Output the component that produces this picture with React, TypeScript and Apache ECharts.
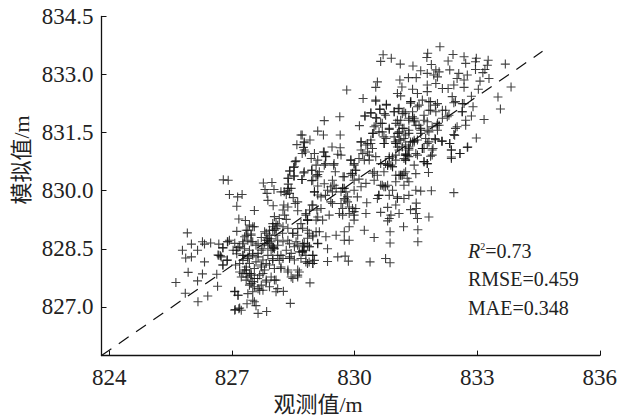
import React, { useEffect, useRef } from "react";
import * as echarts from "echarts";

const xTicks = [824, 827, 830, 833, 836];
const yTicks = [827, 828.5, 830, 831.5, 833, 834.5];
const fitLine = [[823.81, 825.74], [834.6, 833.6]];

const sparseLow = [
[825.91,828.91],[826.01,828.62],[825.79,828.46],[826.16,828.46],[826.28,828.68],[826.33,828.62],[826.48,828.65],[826.68,828.62],[825.87,828.26],[826.01,828.29],[826.33,828.16],[826.66,828.34],[826.72,828.32],[825.93,827.89],[826.28,827.85],[826.16,827.67],[826.63,827.84],[825.63,827.63],[825.86,827.35],[826.65,827.53],[826.41,827.28],[826.17,827.13],[826.78,828.08],[826.89,828.21],[826.78,828.52],[826.89,828.68],[827.07,827.39],[827.15,827.3],[827.08,826.93],[827.19,826.97],
];

const lowCluster = [
[826.79,830.28],[826.91,830.27],[826.94,829.9],[827.14,829.84],[827.25,829.9],[827.12,829.6],[827.55,829.49],[827.77,830.2],[827.98,830.21],[827.81,830.03],[828.03,830.03],[827.86,829.93],[827.88,829.75],[828.01,829.61],[828.28,829.97],[828.37,830.06],[828.41,829.93],[828.33,829.9],[828.5,829.82],[828.61,829.71],[828.55,829.67],[828.61,829.48],[828.27,829.63],[828.37,829.58],[828.25,829.5],
[828.55,830.75],[828.51,830.6],[828.41,830.51],[828.76,830.46],[828.95,830.53],[829.1,830.42],[828.38,830.32],[828.53,830.38],[828.71,830.29],[828.95,830.26],[828.38,830.17],[829.02,829.97],[829.1,829.89],[828.96,829.63],[829.08,829.5],[828.9,829.5],[828.81,829.37],[828.85,829.24],[829.06,829.24],
[827.17,829.27],[827.33,829.23],[827.12,828.95],[827.35,828.98],[827.43,829.11],[827.55,829.07],[827.35,828.85],[827.47,828.88],[828.04,829.33],[828.16,829.28],[828.29,829.37],[828.33,829.26],[828,829.15],[828.12,829.11],[828.25,829.07],[828.04,828.98],[827.92,828.85],[827.8,828.94],[827.72,828.79],[827.84,828.72],[827.96,828.76],[828.08,828.85],[828.37,829.03],[828.49,828.9],[828.61,828.85],[828.73,829.03],[828.85,828.98],[829.06,828.94],[828.98,828.81],[829.1,828.63],[828.85,828.77],[828.57,828.68],[828.73,828.63],[828.9,828.55],[828.77,828.46],[828.65,828.42],[828.53,828.55],[828.41,828.63],[828.25,828.68],[828.12,828.59],[828,828.5],[827.88,828.59],[827.76,828.5],[827.64,828.63],[827.51,828.68],[827.39,828.72],[827.27,828.63],[827.15,828.53],[827.03,828.46],[827.12,828.37],[827.27,828.33],[827.39,828.25],[827.51,828.37],[827.64,828.29],[827.76,828.21],[827.88,828.33],[828,828.25],[828.12,828.33],[828.25,828.25],[828.41,828.29],[828.53,828.21],[828.69,828.25],[828.81,828.16],[828.98,828.12],[828.98,828.33],
[826.9,828.68],[826.94,828.72],[826.78,828.53],[826.68,828.33],[826.74,828.29],[826.88,828.2],[826.78,828.08],[827.09,828.08],[827.19,827.9],[827.23,827.77],[827.31,827.95],[827.43,827.86],[827.35,827.69],[827.47,827.6],[827.55,827.73],[827.68,827.82],[827.8,827.95],[827.92,828.08],[828.04,827.99],[828.2,827.99],[828.37,827.95],[828.49,827.73],[828.61,827.77],[828.65,827.9],[828.91,827.62],[827.84,827.64],[828.04,827.69],[827.92,827.52],[827.76,827.43],[827.64,827.47],[827.51,827.39],[827.39,827.34],[827.43,827.56],[827.07,827.4],[827.15,827.3],[828.08,827.39],[828.26,827.4],[828.12,827.47],[828.43,827.09],[827.55,827.13],[827.59,827.03],[827.37,827.08],[827.17,826.95],[827.07,826.91],[827.23,826.91],[827.64,826.83],[827.85,826.88],[827.51,827.17],
[827.27,828.2],[827.43,828.12],[827.59,828.16],[827.72,828.03],[827.35,828.03],[827.19,828.12],[827.88,828.72],[828,828.98],[828.08,829.02],[828.02,828.53],[827.92,828.63],[828.73,828.45],[827.35,827.86],[827.47,827.82],[827.55,827.52],[827.68,827.43],
];

const lowCore = [
[827.39,828.98],[827.51,829.07],[827.31,828.81],[827.47,828.85],[827.84,828.9],[827.92,828.98],[828,829.07],[828.08,829.15],[827.88,828.77],[827.96,828.68],[827.8,828.64],[828,828.55],[827.96,828.46],[828.04,828.5],[828.12,828.72],[828.24,828.9],[828.37,828.72],[828.49,828.9],[828.61,829.02],[828.85,829.24],[828.89,828.9],[828.77,828.64],[828.89,828.55],[828.73,828.42],[828.61,828.59],[828.45,828.38],[828.33,828.46],[828.2,828.33],[828.41,828.25],[828.89,828.16],[828.16,828.2],[828,828.2],[827.84,828.12],[827.72,828.46],[827.64,828.38],[827.51,828.33],[827.39,828.29],[827.27,828.33],[827.11,828.46],[827.07,828.64],[827.19,828.55],[827.31,828.5],[827.43,828.46],[827.59,828.59],[827.47,828.68],[827.27,828.68],[827.35,827.95],[827.47,827.86],[827.27,827.86],[827.39,827.77],[827.51,827.65],[827.63,827.73],[827.76,827.86],[827.84,827.69],[827.96,827.77],[828.08,827.69],[827.72,827.56],[827.55,827.99],[827.72,828.08],[828.37,827.9],[828.61,827.95],[828.61,827.82],[828.45,827.77],[828.2,828.03],
];

const midCluster = [
[828.75,828.55],[828.85,828.59],[828.72,828.42],[828.81,828.33],[828.98,828.33],[829.02,828.2],[828.85,828.12],[828.98,828.12],[829.34,828.17],[829.59,828.29],[829.77,828.31],[829.85,828.18],[830.38,828.16],[830.76,828.25],[830.87,828.14],[829.34,828.5],[829.1,828.64],[829.14,828.94],[828.98,828.85],[829.3,828.81],[829.55,828.85],[829.75,828.94],[829.75,828.72],[829.87,828.72],[829.87,829.07],[830.24,828.98],[830.48,828.79],[830.87,828.94],[830.87,828.65],[831.55,828.68],[831.55,828.99],[831.2,829.07],[831.82,829.32],[831.54,829.28],[831.5,829.41],[831.51,829.54],[831.37,829.51],[831.51,829.68],[831.5,830.01],[831.62,829.99],[831.88,830],[832.43,829.95],[831.09,829.41],[830.89,829.37],[830.81,829.57],[830.64,829.44],[830.85,829.28],[830.81,829.22],[830.28,829.41],[830.3,829.69],[830.56,829.8],[830.59,829.88],[830.85,829.88],[831.05,829.8],[831.21,829.8],[831.33,829.88],
[828.72,831.44],[828.91,831.31],[828.77,831.24],[828.77,831.05],[828.72,830.96],[829.1,831.54],[829.26,831.81],[829.24,831.44],[829.64,831.91],[829.65,831.44],[829.45,831.13],[829.65,831.11],[829.59,830.94],[829.67,830.92],[829.26,831],[829.02,830.96],[828.94,830.83],[829.1,830.79],[829.3,830.88],[829.26,830.66],[829.5,830.7],[829.06,830.66],[828.77,830.49],[828.96,830.53],[829.14,830.49],[829.53,830.49],[828.72,830.29],[828.98,830.27],[829.1,830.36],[829.46,830.27],[829.75,830.36],[829.1,830.12],[829.42,830.1],[829.02,829.97],[829.26,830.18],[829.34,830.01],[829.55,830.06],[829.67,829.97],[829.18,829.84],[829.46,829.67],[828.98,829.63],[828.81,829.41],[829.18,829.54],[829.38,829.37],[829.1,829.32],[828.85,829.24],[829.22,829.24],[828.69,829.15],[829.71,829.37],[829.87,829.58],[830.03,829.54],[829.99,829.37],[829.99,829.24],[829.79,829.76],[829.75,830.06],[829.83,829.84],[829.67,829.67],[830.07,829.84],[829.99,830.01],[830.16,830.1],[830.28,830.19],[829.99,830.27],[829.95,830.4],[830.11,830.3],[829.91,830.79],[829.99,830.66],[830.03,830.53],[830.16,831.05],[830.24,830.79],[830.36,830.92],[830.16,831.26],[830.32,831.22],[830.4,831.31],[830.52,830.88],[830.64,830.7],[830.48,830.49],[830.56,830.4],[830.85,830.83],[831.01,830.92],[830.81,830.66],[830.93,830.62],[830.72,830.49],[831.01,830.4],[831.13,830.4],[831.25,830.49],[831.46,830.66],[831.7,830.75],[831.78,830.7],[831.81,830.47],[831.5,830.44],[831.33,830.23],[831.21,830.14],[831.01,830.23],[830.76,830.1],[830.68,830.14],[830.93,830.01],[830.48,830.27],[831.9,831.05],[831.9,830.92],[831.7,831.09],[831.5,830.96],[831.25,830.79],[831.25,830.92],[831.33,831.09],[831.09,831.31],[831.01,831.22],[831.42,831.26],[831.25,831.18],[831.74,831.35],[831.98,831.32],[832.15,831.28],[832.33,831.22],[832.37,831.05],[832.37,830.83],[832.58,830.96],[832.76,831.12],[832.43,831.45],[832.47,831.61],[832.72,831.69],
[830.12,831.68],[830.46,831.48],[830.72,831.22],[830.72,831.39],[830.6,831.52],[830.52,831.69],[830.64,831.74],[830.85,831.61],[830.26,831.93],[830.4,832.01],[830.54,831.87],[830.62,832.1],[830.76,831.95],[830.78,832.23],[830.97,832.04],[831.05,831.82],[831.09,832.13],[831.25,832],[831.37,832.3],[831.46,831.87],[831.5,831.69],[831.17,831.61],[831.05,831.48],[831.33,831.48],[831.62,831.61],[831.78,831.78],[832.02,831.69],[832.15,831.87],[832.31,831.95],[831.7,831.95],[831.86,832.08],[831.98,832.21],[832.23,832.08],[832.43,832.27],[832.63,832.04],[832.68,832.25],[831.58,832.21],[831.82,832.3],[830.52,832.31],
[829.81,832.6],[828.69,831.44],[828.59,831.19],[828.77,831.26],[828.75,831.12],[828.8,831],[829.24,831],[829.29,830.89],[828.57,830.77],[828.53,830.62],[828.42,830.51],[829.06,830.4],[829.29,830.7],[829.49,830.66],[828.51,830.38],[828.37,830.32],[829.72,830.36],[829.91,830.44],[828.2,829.97],[828.37,830.01],[828.45,830.06],[829.29,829.88],[829.46,829.97],[829.71,830.06],
];

const midCore = [
[829.71,830.06],[829.79,829.97],[829.75,829.8],[829.83,829.71],[829.95,829.54],[829.99,829.46],[829.71,829.54],[829.63,829.41],[829.87,829.41],[829.42,829.71],[829.5,830.14],[829.99,830.7],[829.91,830.79],[830.11,830.83],[830.2,830.96],[830.36,830.79],[829.95,830.45],[830.03,830.53],[830.44,830.45],[830.72,830.1],[830.81,830.14],[831.13,830.4],[831.21,830.45],[831.29,830.32],[830.81,830.66],[830.93,830.62],[831.29,830.92],[831.21,830.83],[830.64,830.14],[831.01,829.63],[831.05,829.84],[830.6,829.88],
];

const highCluster = [
[832.09,833.72],[831.79,833.55],[831.77,833.44],[830.7,833.51],[830.64,833.34],[830.9,833.42],[831.12,833.27],[831.43,833.22],[831.88,833.26],[832.29,833.35],[832.41,833.52],[832.68,833.46],[832.72,833.29],[832.98,833.42],[832.96,833.33],[833.27,833.37],[833.25,833.24],[833.69,833.27],[832.96,833.13],[833.19,833.13],[833.14,833.05],[832.33,833.12],[831.62,833.1],[831.78,833.03],[831.99,833.12],[832.07,833.07],[831.94,832.99],[832.03,832.94],[832.55,833.03],[832.76,832.99],[832.51,832.9],[832.68,832.86],[831.32,832.92],[831.51,832.92],[831.11,832.86],[830.56,832.81],[830.52,832.67],[831.16,832.68],[831.05,832.51],[831.13,832.45],[831.42,832.62],[831.78,832.73],[831.99,832.77],[832.15,832.64],[832.29,832.64],[832.43,832.73],[832.68,832.67],[833.07,832.83],[833.29,832.9],[833.03,832.62],[833.83,832.68],[833.51,832.42],[832.86,832.44],[833.57,832.11],[833.17,831.84],[832.86,831.93],[832.9,832.17],[832.72,831.82],[832.98,831.36],[832.77,831.13],[832.58,830.96],[832.37,831.05],[832.37,830.87],[832.33,831.22],[832.45,831.43],[832.51,831.65],[832.15,832.08],[832.27,831.91],[832.47,832.3],[832.64,832.25],[832.64,832.04],[832.39,832.43],[831.78,832.56],[831.54,832.51],[831.38,832.3],[831.54,832.17],[831.66,832.34],[831.86,832.3],[832.03,832.25],[831.82,832.08],[831.99,832.04],[831.42,832.04],[831.17,831.99],[830.97,832.04],[831.07,832.12],[830.78,832.21],[830.62,832.11],[830.52,832.34],[830.21,832.38],[830.25,831.93],[830.4,832.01],[830.52,831.89],[830.73,831.99],[830.68,831.74],[830.85,831.58],[830.48,831.65],[830.44,831.48],[830.68,831.52],[831.01,831.74],[831.13,831.82],[831.33,831.87],[831.46,831.82],[831.58,831.69],[831.7,831.82],[832.07,831.69],[832.03,831.56],[831.82,831.52],[831.62,831.56],[831.33,831.56],[831.09,831.52],[830.77,831.35],[830.73,831.22],[831.01,831.22],[831.21,831.35],[831.46,831.26],[831.78,831.22],[831.97,831.35],[832.13,831.28],[831.92,831.09],[831.66,831.09],[831.33,831.13],[831.09,831.05],[831.86,830.89],[831.54,830.92],[831.25,830.92],[830.93,830.87],[830.4,831.22],[830.28,831.18],[830.16,831.26],[830.44,831.09],[830.32,831],
];

const highCore = [
[831,831.26],[831.13,831.31],[831.25,831.44],[831.37,831.26],[831.46,831.3],[831.17,831.13],[831.05,831.13],[831.33,831.05],[831.25,830.95],[831.25,830.79],[831.33,830.88],[831.09,831.48],[830.97,831.39],[831.42,831.91],[831.33,831.82],[831.46,831.78],[831.37,832.26],[831.21,832.04],[830.85,830.88],[830.76,830.7],[830.89,830.66],[831.01,830.79],[831.17,830.4],[831.09,830.4],[831.7,830.75],[831.78,830.7],[831.66,831.09],[831.82,831.26],[831.54,831.31],[831.62,831.48],[831.78,831.56],[831.9,831.65],[832.03,831.74],[831.09,831.69],[831.21,831.61],
];

const ink = "#222";
const serif = "'Liberation Serif', 'Noto Sans CJK SC', serif";

export default function App() {
  const ref = useRef<HTMLDivElement>(null);
  useEffect(() => {
    const chart = echarts.init(ref.current!, undefined, { renderer: "svg" });
    const axisBase = {
      type: "value" as const,
      splitLine: { show: false },
      axisLine: { show: true, onZero: false, lineStyle: { color: "#111", width: 1.3 } },
    };
    chart.setOption({
      animation: false,
      backgroundColor: "#fff",
      textStyle: { fontFamily: serif },
      grid: { left: 101.5, right: 18, top: 16.5, bottom: 62.4 },
      xAxis: {
        ...axisBase,
        min: 823.81,
        max: 836,
        axisTick: { show: true, inside: true, length: 5, lineStyle: { color: "#111", width: 1 }, customValues: xTicks },
        axisLabel: { customValues: xTicks, fontSize: 23, color: ink, margin: 10, fontFamily: serif },
      },
      yAxis: {
        ...axisBase,
        min: 825.74,
        max: 834.5,
        axisTick: { show: true, inside: true, length: 5, lineStyle: { color: "#111", width: 1 }, customValues: yTicks },
        axisLabel: {
          customValues: yTicks,
          fontSize: 23,
          color: ink,
          margin: 8,
          fontFamily: serif,
          formatter: (v: number) => v.toFixed(1),
        },
      },
      series: [
        {
          type: "scatter",
          data: [...sparseLow, ...lowCluster, ...lowCore, ...midCluster, ...midCore, ...highCluster, ...highCore],
          symbol: "path://M0 4H8M4 0V8",
          symbolSize: 9,
          itemStyle: { color: "none", borderColor: "#111", borderWidth: 1.1 },
          silent: true,
        },
        {
          type: "line",
          data: fitLine,
          showSymbol: false,
          silent: true,
          lineStyle: { color: "#111", width: 1.2, type: [12, 9] },
        },
      ],
      graphic: [
        {
          type: "text",
          x: 318,
          y: 404,
          style: { text: "观测值/m", font: `22px ${serif}`, fill: ink, align: "center", verticalAlign: "middle" },
        },
        {
          type: "text",
          x: 21,
          y: 160,
          rotation: Math.PI / 2,
          style: { text: "模拟值/m", font: `22px ${serif}`, fill: ink, align: "center", verticalAlign: "middle" },
        },
        {
          type: "text",
          x: 468,
          y: 251,
          style: {
            text: "{i|R}{s|2}{n|=0.73}",
            verticalAlign: "middle",
            rich: {
              i: { fontSize: 20, fontStyle: "italic", fontFamily: serif, fill: ink },
              s: { fontSize: 10, fontFamily: serif, fill: ink, verticalAlign: "top", padding: [0, 0, 8, 0] },
              n: { fontSize: 20, fontFamily: serif, fill: ink },
            },
          },
        },
        {
          type: "text",
          x: 468,
          y: 279,
          style: { text: "RMSE=0.459", font: `20px ${serif}`, fill: ink, verticalAlign: "middle" },
        },
        {
          type: "text",
          x: 468,
          y: 308,
          style: { text: "MAE=0.348", font: `20px ${serif}`, fill: ink, verticalAlign: "middle" },
        },
      ],
    });
    return () => chart.dispose();
  }, []);
  return <div ref={ref} style={{ position: "absolute", left: 0, top: 0, width: 620, height: 418 }} />;
}
